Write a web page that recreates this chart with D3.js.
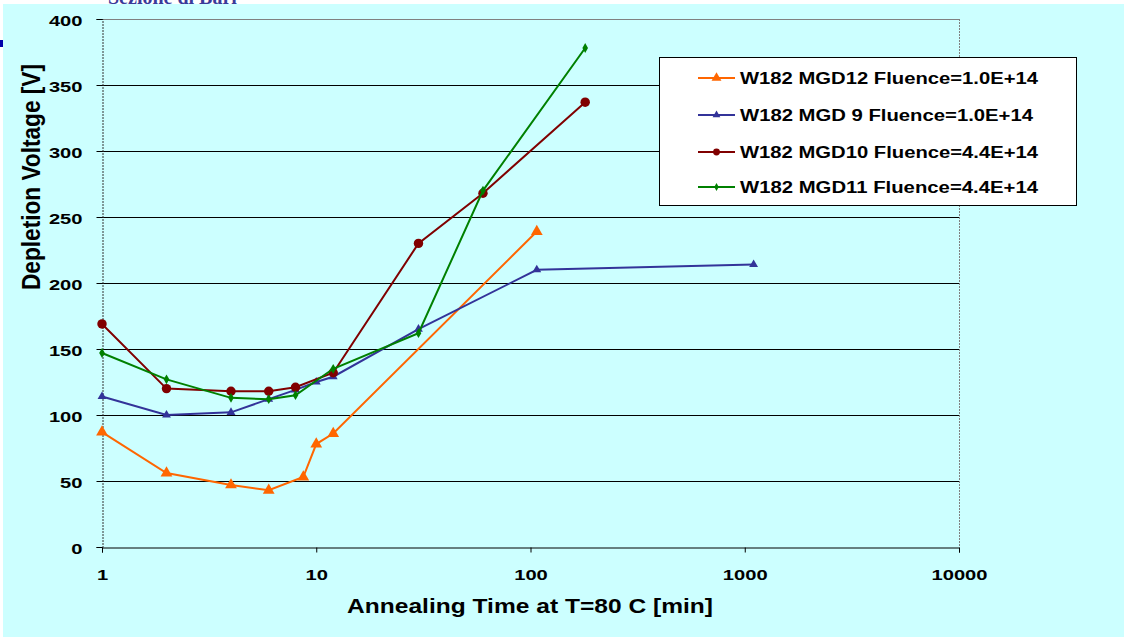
<!DOCTYPE html>
<html>
<head>
<meta charset="utf-8">
<script src="https://cdn.jsdelivr.net/npm/d3@7"></script>
<style>
  body { margin: 0; background: #fff; }
  svg { display: block; }
  text { font-family: "Liberation Sans", Arial, sans-serif; font-weight: bold; fill: #000; }
</style>
</head>
<body>
<div id="chart"></div>
<script>
// values
const seriesNames = [
  "W182 MGD12 Fluence=1.0E+14",
  "W182 MGD 9 Fluence=1.0E+14",
  "W182 MGD10 Fluence=4.4E+14",
  "W182 MGD11 Fluence=4.4E+14"
];
const mgd12Time = [1, 2, 4, 6, 8.7, 10, 12, 107];
const mgd12Volt = [87, 56, 47, 43, 53, 78, 86, 239];
const mgd9Time = [1, 2, 4, 6, 8, 10, 12, 30, 107, 1100];
const mgd9Volt = [114, 100, 102, 112, 119, 125, 129, 165, 210, 214];
const mgd10Time = [1, 2, 4, 6, 8, 12, 30, 60, 180];
const mgd10Volt = [169, 120, 118, 118, 121, 132, 230, 268, 337];
const mgd11Time = [1, 2, 4, 6, 8, 12, 30, 60, 180];
const mgd11Volt = [147, 127, 113, 112, 115, 135, 162, 270, 378];

const xTicks = [1, 10, 100, 1000, 10000];
const yTicks = [0, 50, 100, 150, 200, 250, 300, 350, 400];

const series = [
  { name: seriesNames[0], x: mgd12Time, y: mgd12Volt, color: "#ff6600", symbol: d3.symbolTriangle, size: 60, legSize: 42 },
  { name: seriesNames[1], x: mgd9Time,  y: mgd9Volt,  color: "#333399", symbol: d3.symbolTriangle, size: 34, legSize: 26 },
  { name: seriesNames[2], x: mgd10Time, y: mgd10Volt, color: "#800000", symbol: d3.symbolCircle,   size: 70, legSize: 36 },
  { name: seriesNames[3], x: mgd11Time, y: mgd11Volt, color: "#008000", symbol: d3.symbolDiamond,  size: 28, legSize: 18 }
];

const W = 1124, H = 637;
const plot = { left: 102, right: 959, top: 19, bottom: 547 };
const stretch = 1.3; // the original picture is widened horizontally

const svg = d3.select("#chart").append("svg").attr("width", W).attr("height", H);

// header strip, the title is mostly cut away as in the original
svg.append("text")
  .attr("x", 108).attr("y", 4)
  .style("font-family", "'Liberation Serif', serif")
  .style("font-size", "20px")
  .style("fill", "#3a3a9a")
  .text("Sezione di Bari");
svg.append("rect").attr("x", 0).attr("y", 40).attr("width", 3).attr("height", 7).attr("fill", "#0000aa");

svg.append("rect").attr("x", 3).attr("y", 4).attr("width", W - 3).attr("height", H - 4).attr("fill", "#ccffff");

const x = d3.scaleLog().domain([1, 10000]).range([plot.left, plot.right]);
const y = d3.scaleLinear().domain([0, 400]).range([plot.bottom, plot.top]);

const g = svg.append("g");

// grid lines
g.selectAll(".grid").data(yTicks.filter(v => v > 0 && v < 400)).enter().append("line")
  .attr("class", "grid")
  .attr("x1", plot.left).attr("x2", plot.right)
  .attr("y1", d => Math.round(y(d)) + 0.5).attr("y2", d => Math.round(y(d)) + 0.5)
  .attr("stroke", "#000").attr("stroke-width", 1);

// frame: top and right borders in grey
g.append("line").attr("x1", plot.left).attr("x2", plot.right)
  .attr("y1", plot.top + 0.5).attr("y2", plot.top + 0.5).attr("stroke", "#808080");
g.append("line").attr("x1", plot.right + 0.5).attr("x2", plot.right + 0.5)
  .attr("y1", plot.top).attr("y2", plot.bottom).attr("stroke", "#808080").attr("stroke-dasharray", "2,1");

// y axis
const yAxis = d3.axisLeft(y).tickValues(yTicks).tickSize(6).tickFormat(d3.format("d"));
const gy = g.append("g").attr("transform", `translate(${plot.left + 0.5},0)`).call(yAxis);
gy.select(".domain").attr("stroke", "#333").attr("stroke-dasharray", "2,1");
gy.selectAll(".tick line").attr("stroke", "#000");
gy.selectAll(".tick text").remove();
gy.selectAll(".tick").append("text")
  .attr("transform", `translate(-20,6) scale(${stretch},1)`)
  .attr("text-anchor", "end")
  .style("font-size", "15.5px")
  .text(d => d);

// x axis
const xAxis = d3.axisBottom(x).tickValues(xTicks).tickSize(5).tickFormat(d3.format("d"));
const gx = g.append("g").attr("transform", `translate(0,${plot.bottom + 0.5})`).call(xAxis);
gx.select(".domain").attr("stroke", "#000");
gx.selectAll(".tick line").attr("stroke", "#000");
gx.selectAll(".tick text").remove();
gx.selectAll(".tick").append("text")
  .attr("transform", `translate(0,32) scale(${stretch},1)`)
  .attr("text-anchor", "middle")
  .style("font-size", "15.5px")
  .text(d => d);

// axis titles
svg.append("text")
  .attr("transform", `translate(530,613) scale(${stretch},1)`)
  .attr("text-anchor", "middle")
  .style("font-size", "19.5px")
  .attr("textLength", 366 / stretch).attr("lengthAdjust", "spacingAndGlyphs")
  .text("Annealing Time at T=80 C [min]");

svg.append("text")
  .attr("transform", `translate(40,177) scale(${stretch},1) rotate(-90)`)
  .attr("text-anchor", "middle")
  .style("font-size", "19.5px")
  .attr("textLength", 226).attr("lengthAdjust", "spacingAndGlyphs")
  .text("Depletion Voltage [V]");

// series
const line = d3.line().x(d => x(d[0])).y(d => y(d[1]));
series.forEach(s => {
  const pts = s.x.map((t, i) => [t, s.y[i]]);
  g.append("path").datum(pts)
    .attr("fill", "none").attr("stroke", s.color).attr("stroke-width", 2)
    .attr("d", line);
  g.selectAll(null).data(pts).enter().append("path")
    .attr("transform", d => `translate(${x(d[0])},${y(d[1])})`)
    .attr("d", d3.symbol(s.symbol, s.size))
    .attr("fill", s.color);
});

// legend
const leg = svg.append("g");
leg.append("rect").attr("x", 659.5).attr("y", 57.5).attr("width", 417).attr("height", 148)
  .attr("fill", "#fff").attr("stroke", "#000");
const legY = [78, 115, 152, 187];
const legW = [298, 293, 298, 298];
series.forEach((s, i) => {
  leg.append("line").attr("x1", 698).attr("x2", 735).attr("y1", legY[i]).attr("y2", legY[i])
    .attr("stroke", s.color).attr("stroke-width", 2);
  leg.append("path").attr("transform", `translate(716.5,${legY[i]})`)
    .attr("d", d3.symbol(s.symbol, s.legSize)).attr("fill", s.color);
  leg.append("text")
    .attr("transform", `translate(740,${legY[i] + 6}) scale(${stretch},1)`)
    .style("font-size", "16.5px")
    .attr("textLength", legW[i] / stretch).attr("lengthAdjust", "spacingAndGlyphs")
    .text(s.name);
});
</script>
</body>
</html>
